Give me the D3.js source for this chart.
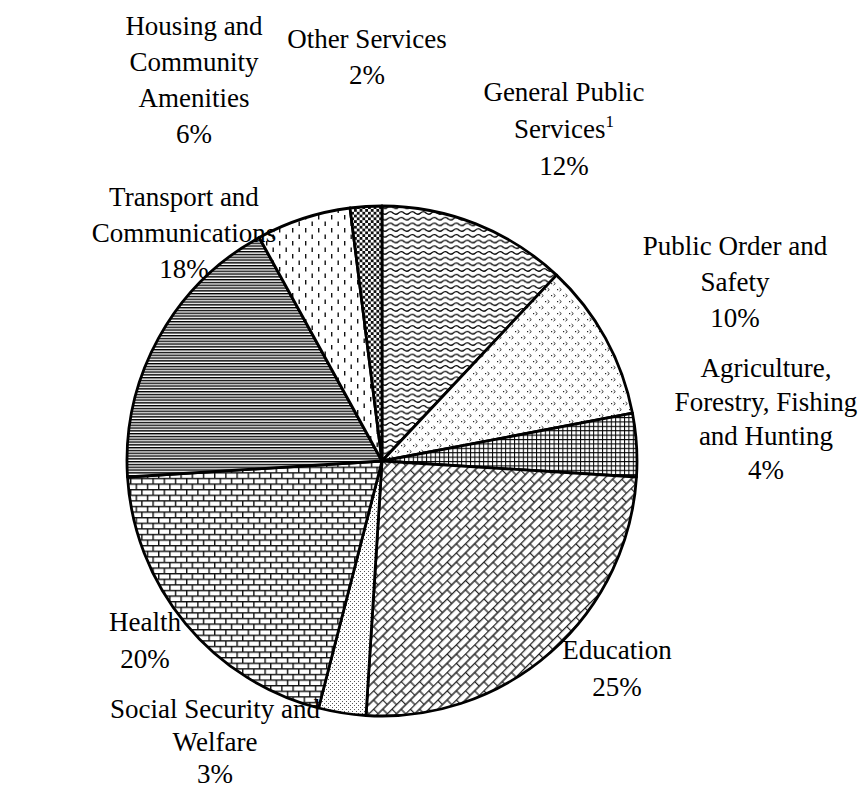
<!DOCTYPE html>
<html>
<head>
<meta charset="utf-8">
<script src="https://cdn.jsdelivr.net/npm/d3@7"></script>
<style>
  html, body { margin: 0; padding: 0; background: #fff; }
  svg { display: block; }
</style>
</head>
<body>
<svg id="chart" width="861" height="790"></svg>
<script>
// Spending shares by function, clockwise from 12 o'clock
const categories = [
  "General Public Services",
  "Public Order and Safety",
  "Agriculture, Forestry, Fishing and Hunting",
  "Education",
  "Social Security and Welfare",
  "Health",
  "Transport and Communications",
  "Housing and Community Amenities",
  "Other Services"
];
const shares = [12, 10, 4, 25, 3, 20, 18, 6, 2];
const labelLines = [
  ["General Public", "Services"],
  ["Public Order and", "Safety"],
  ["Agriculture,", "Forestry, Fishing", "and Hunting"],
  ["Education"],
  ["Social Security and", "Welfare"],
  ["Health"],
  ["Transport and", "Communications"],
  ["Housing and", "Community", "Amenities"],
  ["Other Services"]
];
const footnotes = ["1", "", "", "", "", "", "", "", ""];
const fillPatterns = ["wave", "chevron", "grid", "diagbrick", "dots", "hbrick", "hlines", "vdash", "checker"];

// Label layout: centre x, first baseline y, line gap
const labelLayout = [
  [564, 101, 37], [735, 255, 36], [766, 377, 34], [617, 659, 37], [215, 718, 32.5],
  [145, 631, 37], [184, 206, 36], [194, 35, 36], [367, 48, 36]
];

const W = 861, H = 790;
const cx = 382, cy = 461, R = 255;

const svg = d3.select("#chart");
const defs = svg.append("defs");

function pattern(id, w, h, transform) {
  const p = defs.append("pattern")
    .attr("id", id)
    .attr("patternUnits", "userSpaceOnUse")
    .attr("width", w).attr("height", h);
  if (transform) p.attr("patternTransform", transform);
  p.append("rect").attr("width", w).attr("height", h).attr("fill", "#fff");
  return p;
}

// wavy lines
{
  const p = pattern("wave", 11, 5.7);
  p.append("path").attr("d", "M-5.5,2.8 Q-2.75,0.3 0,2.8 T5.5,2.8 T11,2.8 T16.5,2.8")
    .attr("fill", "none").attr("stroke", "#000").attr("stroke-width", 1.3);
}
// small dots followed by chevrons, staggered
{
  const p = pattern("chevron", 12, 12);
  [[1, 1], [7, 7]].forEach(([x, y]) => {
    p.append("rect").attr("x", x).attr("y", y + 1).attr("width", 1.2).attr("height", 1.2).attr("fill", "#222");
    p.append("path").attr("d", `M${x + 2.5},${y} L${x + 4.3},${y + 1.6} L${x + 2.5},${y + 3.2}`)
      .attr("fill", "none").attr("stroke", "#333").attr("stroke-width", 1);
  });
}
// small square grid
{
  const p = pattern("grid", 4.4, 4.4);
  p.append("path").attr("d", "M0,0.5 H4.4 M0.5,0 V4.4")
    .attr("stroke", "#000").attr("stroke-width", 1);
}
// diagonal brick
{
  const p = pattern("diagbrick", 13, 13, "rotate(-45)");
  p.append("path").attr("d", "M0,0.5 H13 M0,7 H13 M0.5,0 V7 M7,7 V13")
    .attr("fill", "none").attr("stroke", "#222").attr("stroke-width", 1.3);
}
// fine dots
{
  const p = pattern("dots", 4, 4);
  p.append("rect").attr("x", 0).attr("y", 0).attr("width", 1).attr("height", 1).attr("fill", "#555");
  p.append("rect").attr("x", 2).attr("y", 2).attr("width", 1).attr("height", 1).attr("fill", "#555");
}
// horizontal brick
{
  const p = pattern("hbrick", 11.2, 11.2);
  p.append("path").attr("d", "M0,0.7 H11.2 M0,6.3 H11.2 M0.7,0 V6.3 M6.3,6.3 V11.2")
    .attr("fill", "none").attr("stroke", "#111").attr("stroke-width", 1.4);
}
// narrow horizontal lines
{
  const p = pattern("hlines", 10, 2.8);
  p.append("rect").attr("x", 0).attr("y", 0).attr("width", 10).attr("height", 1.4).attr("fill", "#000");
}
// dashed vertical
{
  const p = pattern("vdash", 13, 13);
  p.append("rect").attr("x", 1).attr("y", 1).attr("width", 1.4).attr("height", 4.5).attr("fill", "#111");
  p.append("rect").attr("x", 7.5).attr("y", 7.5).attr("width", 1.4).attr("height", 4.5).attr("fill", "#111");
}
// small checker
{
  const p = pattern("checker", 5.6, 5.6);
  p.append("rect").attr("x", 0).attr("y", 0).attr("width", 2.8).attr("height", 2.8).attr("fill", "#111");
  p.append("rect").attr("x", 2.8).attr("y", 2.8).attr("width", 2.8).attr("height", 2.8).attr("fill", "#111");
}

const data = categories.map((c, i) => ({ name: c, value: shares[i], i }));

const pie = d3.pie().value(d => d.value).sort(null).startAngle(0).endAngle(2 * Math.PI);
const arc = d3.arc().innerRadius(0).outerRadius(R);

const g = svg.append("g").attr("transform", `translate(${cx},${cy})`);

g.selectAll("path.slice")
  .data(pie(data))
  .join("path")
  .attr("class", "slice")
  .attr("d", arc)
  .attr("fill", d => `url(#${fillPatterns[d.data.i]})`)
  .attr("stroke", "#000")
  .attr("stroke-width", 2.8)
  .attr("stroke-linejoin", "round");

// labels
const labels = svg.append("g")
  .style("font-family", "'Liberation Serif', 'Times New Roman', serif")
  .style("font-size", "27px")
  .attr("fill", "#000")
  .attr("text-anchor", "middle");

data.forEach((d, i) => {
  const [x, y0, gap] = labelLayout[i];
  const lines = labelLines[i];
  lines.forEach((ln, k) => {
    const t = labels.append("text").attr("x", x).attr("y", y0 + k * gap);
    t.append("tspan").text(ln);
    if (k === lines.length - 1 && footnotes[i]) {
      t.append("tspan").attr("dy", -11).style("font-size", "17px").text(footnotes[i]);
    }
  });
  labels.append("text").attr("x", x).attr("y", y0 + lines.length * gap).text(`${d.value}%`);
});
</script>
</body>
</html>
